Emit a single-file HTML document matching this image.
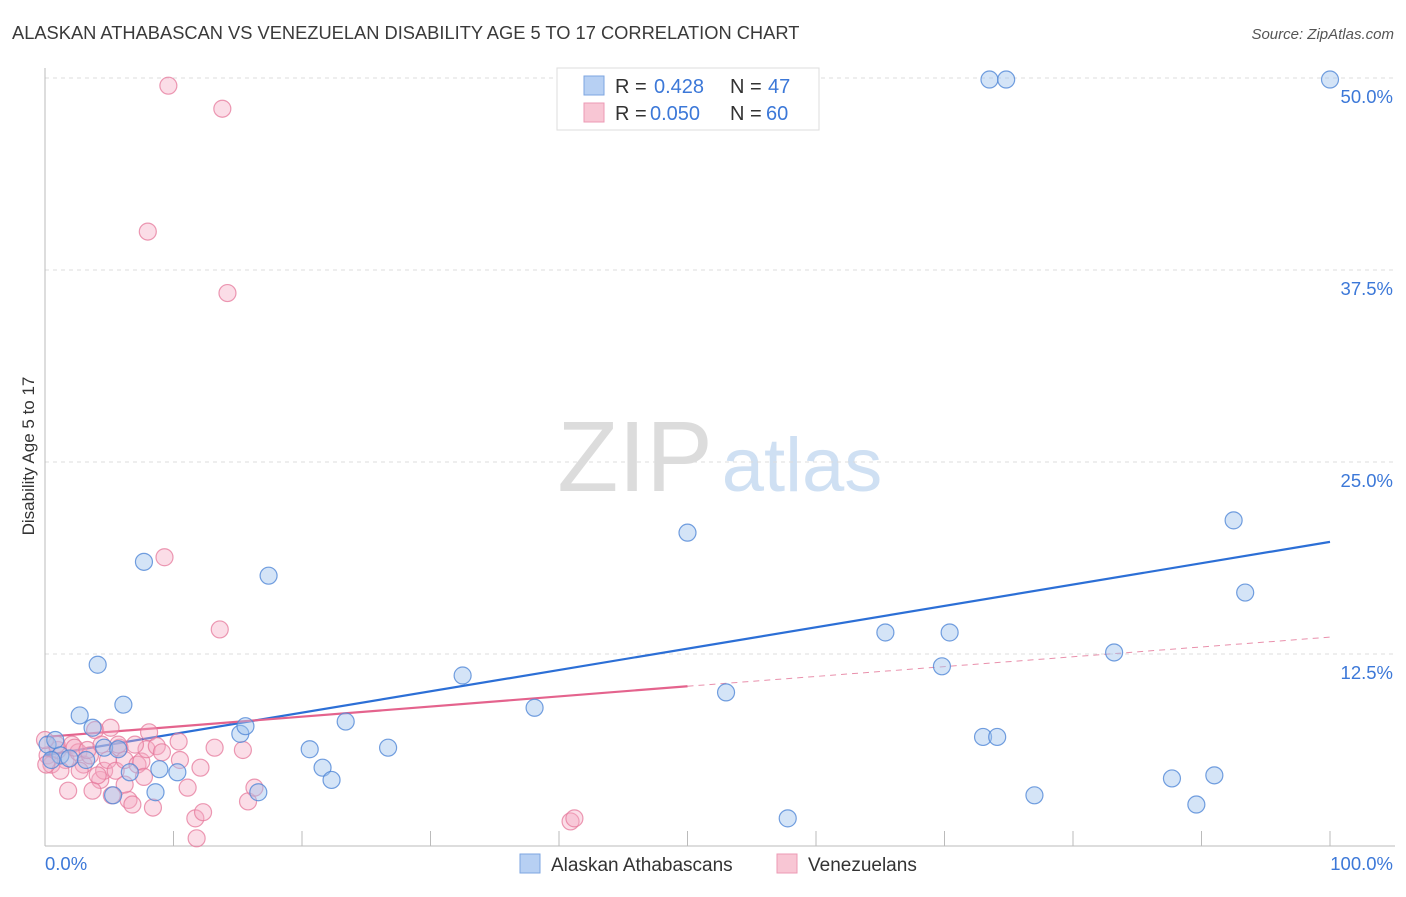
<!DOCTYPE html>
<html><head><meta charset="utf-8"><style>
body{margin:0;background:#fff;font-family:"Liberation Sans",sans-serif}
svg text{font-family:"Liberation Sans",sans-serif}
</style></head><body>
<svg id="chart" width="1406" height="892" viewBox="0 0 1406 892">
<text x="12" y="39" font-size="18.3" fill="#3a3a3a">ALASKAN ATHABASCAN VS VENEZUELAN DISABILITY AGE 5 TO 17 CORRELATION CHART</text>
<text x="1394" y="39" font-size="15" fill="#555" font-style="italic" text-anchor="end">Source: ZipAtlas.com</text>
<g>
<text x="635" y="491" font-size="100" fill="#dcdcdc" font-family="Liberation Serif,serif" text-anchor="middle">ZIP</text>
<text x="802" y="491" font-size="76" fill="#cfe0f3" text-anchor="middle">atlas</text>
</g>
<text transform="translate(34,456) rotate(-90)" font-size="17" fill="#333" text-anchor="middle">Disability Age 5 to 17</text>
<g id="grid"></g><g id="axes"></g><g id="trend"></g><g id="pts"></g>
<g>
<rect x="557" y="68" width="262" height="62" fill="#fff" stroke="#ddd"/>
<rect x="584" y="76" width="20" height="19" fill="#b7d0f3" stroke="#7ea6e0"/>
<rect x="584" y="103" width="20" height="19" fill="#f8c6d4" stroke="#ec9ab4"/>
<text x="615" y="93" font-size="20" fill="#333">R = </text><text x="654" y="93" font-size="20" fill="#3c78d8">0.428</text>
<text x="730" y="93" font-size="20" fill="#333">N = </text><text x="768" y="93" font-size="20" fill="#3c78d8">47</text>
<text x="615" y="120" font-size="20" fill="#333">R = </text><text x="650" y="120" font-size="20" fill="#3c78d8">0.050</text>
<text x="730" y="120" font-size="20" fill="#333">N = </text><text x="766" y="120" font-size="20" fill="#3c78d8">60</text>
</g>
<g>
<rect x="520" y="854" width="20" height="19" fill="#b7d0f3" stroke="#7ea6e0"/>
<text x="551" y="871" font-size="19" fill="#333">Alaskan Athabascans</text>
<rect x="777" y="854" width="20" height="19" fill="#f8c6d4" stroke="#ec9ab4"/>
<text x="808" y="871" font-size="19" fill="#333">Venezuelans</text>
</g>
</svg>
<script>
const yTicks=[12.5,25,37.5,50];
const yTickLabels=["12.5%","25.0%","37.5%","50.0%"];
const xTickLabels=["0.0%","100.0%"];
const blueX=[0.2,0.8,2.7,4.1,3.7,6.1,4.6,5.7,5.3,6.6,7.7,8.6,8.9,10.3,15.2,15.6,16.6,17.4,20.6,21.6,22.3,23.4,26.7,32.5,38.1,50.0,53.0,57.8,65.4,69.8,70.4,73.0,74.1,73.5,74.8,77.0,83.2,87.7,89.6,91.0,92.5,93.4,100,1.2,1.9,3.2,0.5];
const blueY=[6.6,6.9,8.5,11.8,7.7,9.2,6.4,6.3,3.3,4.8,18.5,3.5,5.0,4.8,7.3,7.8,3.5,17.6,6.3,5.1,4.3,8.1,6.4,11.1,9.0,20.4,10.0,1.8,13.9,11.7,13.9,7.1,7.1,49.9,49.9,3.3,12.6,4.4,2.7,4.6,21.2,16.5,49.9,5.9,5.7,5.6,5.6];
const pinkX=[0.2,0.5,1.0,1.6,2.1,2.6,3.0,3.5,3.9,4.3,4.6,4.9,5.2,5.1,5.5,5.8,6.2,6.5,6.8,7.2,7.5,7.7,7.9,8.1,8.4,8.7,9.1,9.6,9.3,10.4,10.5,11.1,11.7,11.8,12.1,12.3,13.2,13.8,13.6,14.2,15.4,15.8,16.3,8.0,40.9,41.2,3.7,4.1,2.7,1.8,6.2,1.2,0.9,2.3,3.3,0,0.1,4.4,5.7,7.0];
const pinkY=[5.9,5.3,6.25,5.6,6.6,6.1,5.3,5.9,7.55,4.3,4.9,5.6,3.3,7.7,4.9,6.4,5.6,3.0,2.7,5.3,5.5,4.5,6.3,7.4,2.5,6.5,6.1,49.5,18.8,6.8,5.6,3.8,1.8,0.5,5.1,2.2,6.4,48.0,14.1,36.0,6.25,2.9,3.8,40.0,1.6,1.8,3.6,4.6,4.9,3.6,4.0,4.9,6.6,6.4,6.25,6.9,5.3,6.6,6.6,6.6];
const blueTrend=[5.9,19.8];
const pinkTrend=[7.1,10.4,13.6];
const NS='http://www.w3.org/2000/svg';
const sx=v=>45+v*12.85, sy=v=>846-v*15.36;
function mk(tag,attrs,parent){const e=document.createElementNS(NS,tag);for(const k in attrs)e.setAttribute(k,attrs[k]);document.getElementById(parent).appendChild(e);return e;}
yTicks.forEach((t,i)=>{
 const g=mk('line',{x1:45,x2:1395,y1:sy(t),y2:sy(t),stroke:'#ddd','stroke-dasharray':'4,4'},'grid');
 
 
 const l=mk('text',{x:1393,y:sy(t)+25,'font-size':18.5,fill:'#3c78d8','text-anchor':'end'},'grid');
 l.textContent=yTickLabels[i];
 
 
});
let a=mk('line',{x1:45,x2:45,y1:68,y2:846,stroke:'#bbb'},'axes');


a=mk('line',{x1:45,x2:1395,y1:846,y2:846,stroke:'#bbb'},'axes');


for(let k=1;k<=10;k++){const t=mk('line',{x1:sx(k*10),x2:sx(k*10),y1:831,y2:846,stroke:'#bbb'},'axes');
 
 }
[[0,'start',45],[100,'end',1393]].forEach((d,i)=>{const t=mk('text',{x:d[2],y:870,'font-size':18.5,fill:'#3c78d8','text-anchor':d[1]},'axes');t.textContent=xTickLabels[i];
 
 });
let tl=mk('line',{x1:sx(0),y1:sy(blueTrend[0]),x2:sx(100),y2:sy(blueTrend[1]),stroke:'#2c6fd6','stroke-width':2.2},'trend');


tl=mk('line',{x1:sx(0),y1:sy(pinkTrend[0]),x2:sx(50),y2:sy(pinkTrend[1]),stroke:'#e4638d','stroke-width':2.2},'trend');


tl=mk('line',{x1:sx(50),y1:sy(pinkTrend[1]),x2:sx(100),y2:sy(pinkTrend[2]),stroke:'#e990ac','stroke-width':1,'stroke-dasharray':'6,5'},'trend');


pinkX.forEach((x,i)=>{const c=mk('circle',{cx:sx(x),cy:sy(pinkY[i]),r:8.5,fill:'rgba(246,170,195,0.4)',stroke:'rgba(230,120,155,0.75)','stroke-width':1.2},'pts');
 
 });
blueX.forEach((x,i)=>{const c=mk('circle',{cx:sx(x),cy:sy(blueY[i]),r:8.5,fill:'rgba(160,196,238,0.45)',stroke:'rgba(80,135,215,0.8)','stroke-width':1.2},'pts');
 
 });
</script>
</body></html>
